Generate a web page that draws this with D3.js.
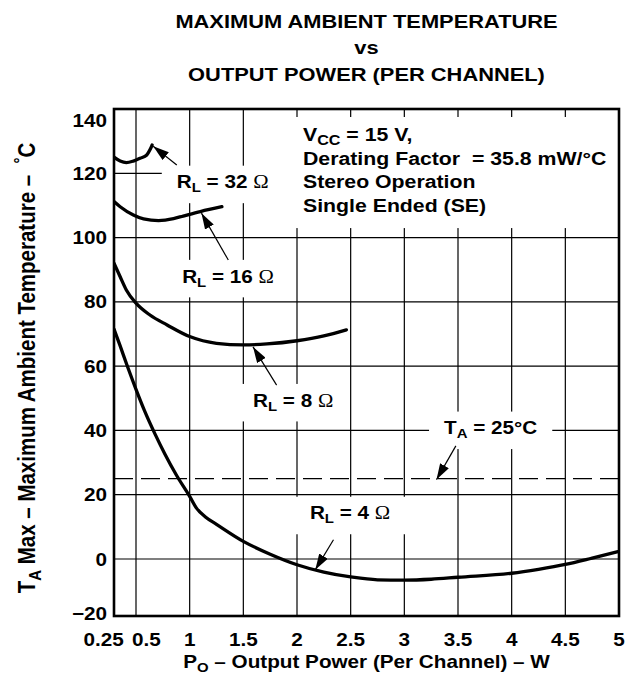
<!DOCTYPE html>
<html>
<head>
<meta charset="utf-8">
<script src="https://cdn.jsdelivr.net/npm/d3@7"></script>
<style>
  html, body { margin: 0; padding: 0; background: #fff; }
  svg text {
    font-family: "Liberation Sans", Arial, Helvetica, sans-serif;
    font-weight: bold;
    fill: #000;
    white-space: pre;
  }
</style>
</head>
<body>
<svg id="chart" width="639" height="681"></svg>
<script>
// ---- Axis ticks -------------------------------------------------------------
const powerTicks = [0.25, 0.5, 1, 1.5, 2, 2.5, 3, 3.5, 4, 4.5, 5];     // P_O, W
const tempTicks  = [-20, 0, 20, 40, 60, 80, 100, 120, 140];            // T_A max, °C

// ---- Curves: output power per channel (W) vs maximum ambient temperature (°C)
const power32 = [0.25, 0.32, 0.39, 0.47, 0.54, 0.60, 0.63, 0.65];
const temp32  = [125.0, 123.8, 123.3, 123.8, 124.7, 125.7, 127.3, 128.8];

const power16 = [0.25, 0.32, 0.47, 0.57, 0.71, 0.85, 0.94, 1.1, 1.3];
const temp16  = [111.2, 109.6, 107.0, 105.8, 105.3, 105.9, 106.7, 108.1, 109.6];

const power8 = [0.25, 0.32, 0.39, 0.5, 0.63, 0.79, 1.0, 1.25, 1.5, 1.72, 2.0, 2.25, 2.46];
const temp8  = [92.0, 87.8, 83.7, 79.6, 75.9, 72.8, 69.2, 67.1, 66.6, 66.9, 67.9, 69.4, 71.3];

const power4 = [0.25, 0.32, 0.4, 0.5, 0.58, 0.68, 0.77, 0.88, 1.0, 1.06, 1.15, 1.25, 1.5, 1.75,
                2.0, 2.25, 2.5, 2.75, 3.0, 3.25, 3.5, 4.0, 4.25, 4.5, 4.75, 5.0];
const temp4  = [71.5, 66.3, 60.1, 52.8, 46.1, 38.7, 32.6, 25.9, 19.5, 16.0, 13.0, 10.8, 5.5, 1.5,
                -2.0, -4.6, -6.3, -7.3, -7.4, -7.1, -6.4, -5.0, -3.6, -1.9, 0.3, 2.4];

const ambientTemp = 25;   // reference line, °C

// Curve labels: label anchor and arrow tail/tip, all in data units
const curveLabels = [
  { parts: [["R"], ["L", "sub"], [" = 32 "], ["\u03A9", "greek"]], at: [0.88, 115.3], tail: [0.88, 122.6], tip: [0.66, 128.4] },
  { parts: [["R"], ["L", "sub"], [" = 16 "], ["\u03A9", "greek"]], at: [0.93, 86.0],  tail: [1.36, 93.0],  tip: [1.11, 107.6] },
  { parts: [["R"], ["L", "sub"], [" = 8 "],  ["\u03A9", "greek"]], at: [1.59, 47.4],  tail: [1.81, 54.1],  tip: [1.59, 66.0] },
  { parts: [["T"], ["A", "sub"], [" = 25\u00B0C"]],               at: [3.37, 38.8],  tail: [3.48, 35.2],  tip: [3.30, 24.7] },
  { parts: [["R"], ["L", "sub"], [" = 4 "],  ["\u03A9", "greek"]], at: [2.12, 12.3],  tail: [2.34, 6.0],   tip: [2.17, -3.8] }
];

const conditions = [
  [["V"], ["CC", "sub"], [" = 15 V,"]],
  [["Derating Factor  = 35.8 mW/\u00B0C"]],
  [["Stereo Operation"]],
  [["Single Ended (SE)"]]
];

const titleLines = ["MAXIMUM AMBIENT TEMPERATURE", "vs", "OUTPUT POWER (PER CHANNEL)"];
const xTitle = [["P"], ["O", "sub"], [" \u2013 Output Power (Per Channel) \u2013 W"]];
const yTitle = [["T"], ["A", "sub"], [" Max \u2013 Maximum Ambient Temperature \u2013  "], ["\u00B0", "sup"], ["C"]];

// ---- Layout -----------------------------------------------------------------
const plot = { left: 114, right: 619, top: 109, bottom: 616 };
const FONT = 18;
const STRETCH = 1.15;       // horizontal widening of all lettering

const svg = d3.select("#chart");

// The first power interval (0.25 -> 0.5) and the first temperature interval
// (-20 -> 0) are drawn shorter than the regular grid steps.
const x = d3.scaleLinear()
  .domain([0.25, 0.5, 5])
  .range([plot.left, plot.left + 22, plot.right]);
const y = d3.scaleLinear()
  .domain([-20, 0, 140])
  .range([plot.bottom, plot.bottom - 57, plot.top]);

// Layers in paint order
const gridLayer   = svg.append("g");
const maskLayer   = svg.append("g");
const refLayer    = svg.append("g");
const curveLayer  = svg.append("g");
const arrowLayer  = svg.append("g");
const textLayer   = svg.append("g");
const frameLayer  = svg.append("g");

svg.append("defs").append("marker")
  .attr("id", "head")
  .attr("viewBox", "0 0 16 10")
  .attr("refX", 16).attr("refY", 5)
  .attr("markerWidth", 16).attr("markerHeight", 10)
  .attr("markerUnits", "userSpaceOnUse")
  .attr("orient", "auto")
  .append("path").attr("d", "M0,0 L16,5 L0,10 Z").attr("fill", "#000");

svg.append("defs").append("clipPath").attr("id", "plotClip")
  .append("rect")
  .attr("x", plot.left).attr("y", plot.top)
  .attr("width", plot.right - plot.left).attr("height", plot.bottom - plot.top);

// Text helper: rich text from [string, kind] parts, widened horizontally
function addText(parent, px, py, parts, opt = {}) {
  const size = opt.size || FONT;
  const tf = opt.rotate
    ? `translate(${px},${py}) rotate(${opt.rotate}) scale(1,${STRETCH})`
    : `translate(${px},${py}) scale(${STRETCH},1)`;
  const g = parent.append("g").attr("transform", tf);
  const t = g.append("text")
    .attr("text-anchor", opt.anchor || "start")
    .style("font-size", size + "px");
  let shift = 0;
  parts.forEach(([s, kind]) => {
    const ts = t.append("tspan").text(s);
    const target = kind === "sub" ? Math.round(size * 0.24) : kind === "sup" ? -Math.round(size * 0.4) : 0;
    if (target !== shift) { ts.attr("dy", target - shift); shift = target; }
    if (kind === "sub" || kind === "sup") ts.style("font-size", Math.round(size * 0.74) + "px");
    if (kind === "greek") ts.style("font-family", '"Liberation Serif", "Times New Roman", serif').style("font-weight", "normal");
  });
  return { g, t };
}

// White backing box behind a horizontal label (hides the grid under it)
function maskBehind(item, px, py, pad) {
  const b = item.t.node().getBBox();
  maskLayer.append("rect")
    .attr("x", px + b.x * STRETCH - pad.l)
    .attr("y", py + b.y - pad.t)
    .attr("width", b.width * STRETCH + pad.l + pad.r)
    .attr("height", b.height + pad.t + pad.b)
    .attr("fill", "#fff");
}

// ---- Grid ---------------------------------------------------------------------
gridLayer.selectAll("line.v")
  .data(powerTicks.filter(v => v > x.domain()[0] && v < x.domain()[2]))
  .join("line")
  .attr("x1", d => x(d)).attr("x2", d => x(d))
  .attr("y1", plot.top).attr("y2", plot.bottom)
  .attr("stroke", "#000").attr("stroke-width", 1.2);

gridLayer.selectAll("line.h")
  .data(tempTicks.filter(v => v > y.domain()[0] && v < y.domain()[2]))
  .join("line")
  .attr("x1", plot.left).attr("x2", plot.right)
  .attr("y1", d => y(d)).attr("y2", d => y(d))
  .attr("stroke", "#000").attr("stroke-width", 1.2);

// ---- Operating conditions block -----------------------------------------------
const condX = x(2) + 6;
maskLayer.append("rect")
  .attr("x", x(2) - 14).attr("y", plot.top + 8)
  .attr("width", plot.right - (x(2) - 14)).attr("height", (y(100) - 9.5) - (plot.top + 8))
  .attr("fill", "#fff");
conditions.forEach((line, i) => {
  addText(textLayer, condX, plot.top + 32 + i * 23.5, line, { size: 18.5 });
});

// ---- Ambient reference line ---------------------------------------------------
refLayer.append("line")
  .attr("x1", plot.left).attr("x2", plot.right)
  .attr("y1", y(ambientTemp)).attr("y2", y(ambientTemp))
  .attr("stroke", "#000").attr("stroke-width", 1.2)
  .attr("stroke-dasharray", "19,8");

// ---- Curves -------------------------------------------------------------------
const line = d3.line()
  .x(d => x(d[0])).y(d => y(d[1]))
  .curve(d3.curveMonotoneX);

const series = [
  [power32, temp32],
  [power16, temp16],
  [power8, temp8],
  [power4, temp4]
];
curveLayer.attr("clip-path", "url(#plotClip)")
  .selectAll("path")
  .data(series.map(([p, t]) => p.map((v, i) => [v, t[i]])))
  .join("path")
  .attr("d", line)
  .attr("fill", "none")
  .attr("stroke", "#000")
  .attr("stroke-width", 3.3)
  .attr("stroke-linejoin", "round")
  .attr("stroke-linecap", "round");

// ---- Curve labels with arrows ---------------------------------------------------
curveLabels.forEach(lab => {
  const px = x(lab.at[0]), py = y(lab.at[1]);
  const item = addText(textLayer, px, py, lab.parts);
  maskBehind(item, px, py, { l: 15, r: 15, t: 6, b: 8 });
  arrowLayer.append("line")
    .attr("x1", x(lab.tail[0])).attr("y1", y(lab.tail[1]))
    .attr("x2", x(lab.tip[0])).attr("y2", y(lab.tip[1]))
    .attr("stroke", "#000").attr("stroke-width", 1.2)
    .attr("marker-end", "url(#head)");
});

// ---- Frame ----------------------------------------------------------------------
frameLayer.append("rect")
  .attr("x", plot.left).attr("y", plot.top)
  .attr("width", plot.right - plot.left).attr("height", plot.bottom - plot.top)
  .attr("fill", "none").attr("stroke", "#000").attr("stroke-width", 2.6);

// ---- Tick labels ----------------------------------------------------------------
// Temperature: right-aligned, kept inside the frame's vertical extent
tempTicks.forEach(v => {
  const cy = Math.max(plot.top + 11, Math.min(plot.bottom - 3, y(v)));
  addText(textLayer, plot.left - 7, cy + 6.5, [[String(v).replace("-", "\u2212")]], { anchor: "end" });
});

// Power: centred on the ticks, crowded neighbours pushed apart
const xl = powerTicks.map(v => {
  const item = addText(textLayer, x(v), plot.bottom + 30, [[String(v)]], { anchor: "middle" });
  return { item, c: x(v), w: item.t.node().getBBox().width * STRETCH };
});
for (let i = 0; i < xl.length - 1; i++) {
  const a = xl[i], b = xl[i + 1];
  const overlap = (a.c + a.w / 2 + 8) - (b.c - b.w / 2);
  if (overlap > 0) { a.c -= overlap / 2; b.c += overlap / 2; }
}
xl.forEach(d => d.item.g.attr("transform", `translate(${d.c},${plot.bottom + 30}) scale(${STRETCH},1)`));

// ---- Titles -----------------------------------------------------------------------
const cx = (plot.left + plot.right) / 2;
[28, 54, 81].forEach((by, i) => addText(textLayer, cx, by, [[titleLines[i]]], { anchor: "middle", size: 19 }));
addText(textLayer, cx, plot.bottom + 52, xTitle, { anchor: "middle" });
addText(textLayer, 35, 368, yTitle, { anchor: "middle", rotate: -90, size: 20.5 });
</script>
</body>
</html>
